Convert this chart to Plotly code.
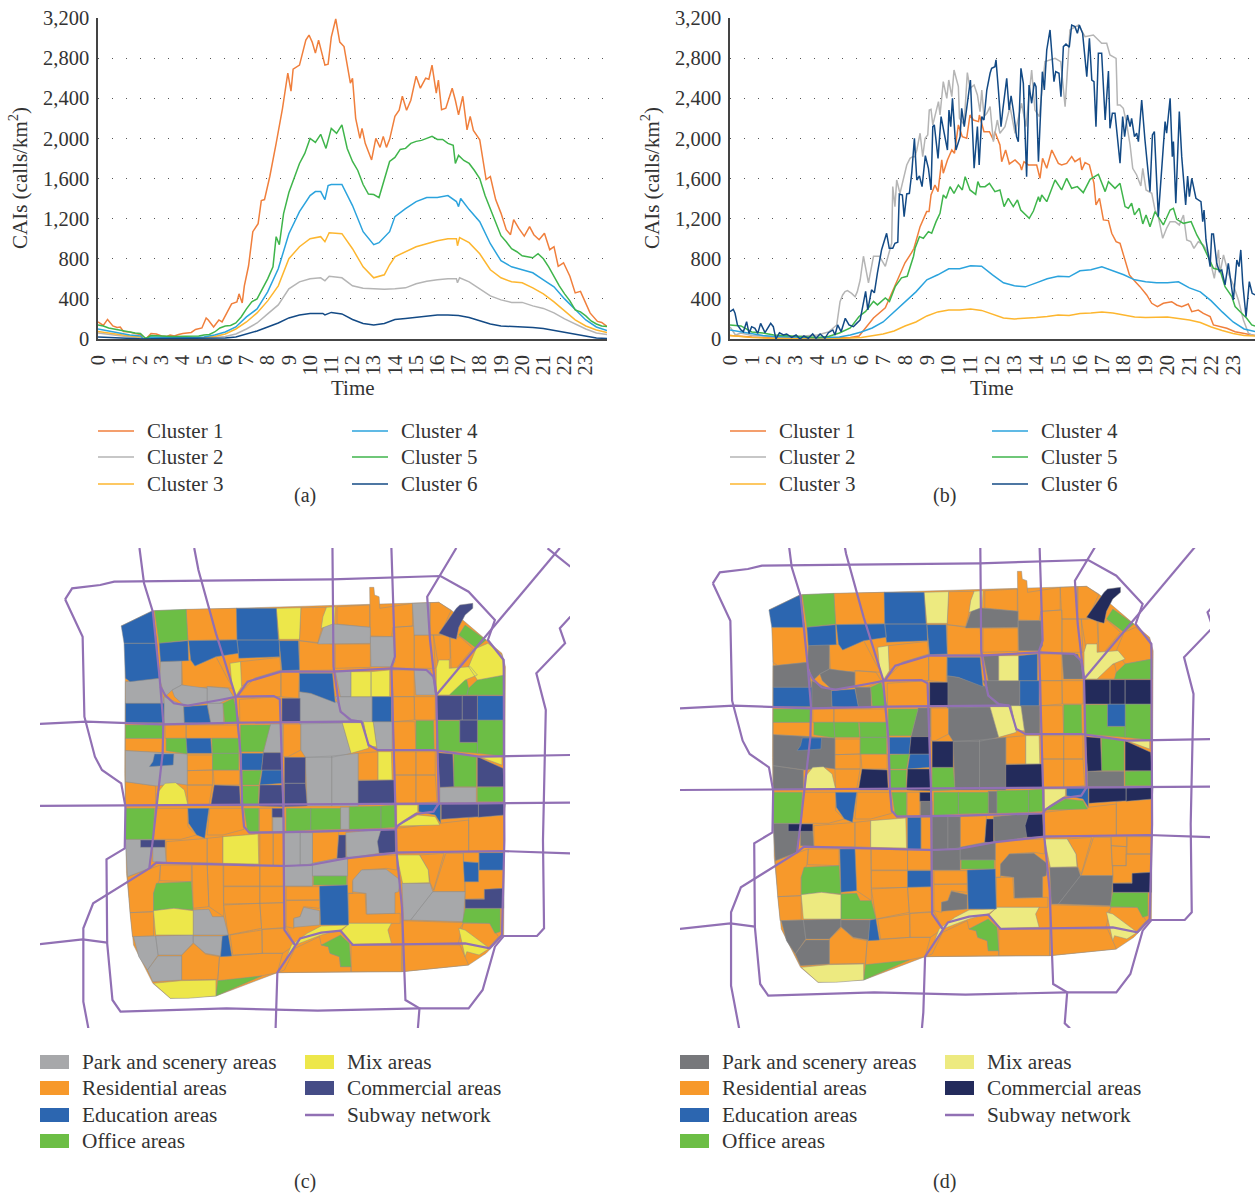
import plotly.graph_objects as go

W, H = 1256, 1196
# ---------- line chart values (hour, calls/km2) ----------
HOUR_TICKS = list(range(24))
CAI_TICKS = [0, 400, 800, 1200, 1600, 2000, 2400, 2800, 3200]

A1_T = [0,.12,.25,.45,.7,.9,1.05,1.2,1.5,1.75,2,2.15,2.3,2.5,2.75,3,3.25,3.4,3.6,3.8,4,4.4,4.6,4.9,5.1,5.2,5.45,5.7,5.85,6.1,6.3,6.55,6.65,6.8,6.9,7.1,7.3,7.55,7.7,7.85,8.1,8.4,8.7,8.95,9.1,9.2,9.5,9.8,9.95,10.1,10.25,10.4,10.7,10.85,11,11.21,11.4,11.6,11.9,12,12.15,12.35,12.45,12.6,12.9,13.1,13.3,13.45,13.6,13.75,14,14.2,14.35,14.55,14.75,15,15.2,15.45,15.6,15.75,15.95,16.05,16.2,16.4,16.7,16.85,17,17.2,17.4,17.55,17.7,18,18.3,18.5,18.75,19,19.25,19.45,19.6,19.85,20.1,20.35,20.55,20.8,21.05,21.3,21.5,21.7,21.95,22.25,22.5,22.75,23.2,23.55,23.75,24]
A1_V = [170,150,135,195,130,115,120,75,70,55,45,0,10,55,50,30,25,40,30,45,55,65,95,110,210,190,120,190,170,270,350,370,450,360,530,730,1070,1150,1380,1390,1620,1950,2300,2650,2470,2690,2730,2980,3030,2960,2850,2980,2730,2740,3010,3190,2960,2915,2550,2600,2200,2000,2100,1950,1785,2000,1910,2020,1910,1990,2220,2280,2420,2280,2380,2620,2500,2600,2590,2730,2450,2580,2285,2300,2500,2380,2235,2420,2085,2220,2080,1985,1590,1620,1390,1255,1090,1040,1190,1100,1025,1120,1040,990,1055,890,920,725,760,625,460,475,260,175,165,125]
A2_T = [0,.5,1,1.5,2,2.15,2.5,3,4,5,5.5,6,6.5,7,7.5,8,8.5,9,9.5,10,10.5,10.7,10.9,11.5,12,12.5,13,13.5,14,14.5,15,15.5,16,16.5,16.9,16.95,17.05,17.5,18,18.5,19,19.5,20,20.5,21,21.5,22,22.5,23,23.5,24]
A2_V = [60,45,30,20,15,0,10,10,8,10,15,25,50,100,160,250,340,500,570,600,610,580,625,610,530,505,500,495,500,510,550,575,590,600,600,560,610,570,500,430,390,365,365,330,305,260,200,150,100,60,45]
A3_T = [0,.5,1,1.5,2,2.15,2.5,3,3.5,4,4.5,5,5.5,6,6.5,7,7.5,8,8.5,9,9.5,10,10.5,10.7,10.9,11.5,12,12.5,13,13.5,13.75,14,14.5,15,15.5,16,16.5,16.9,16.95,17.05,17.5,18,18.5,19,19.5,20,20.5,21,21.5,22,22.5,23,23.5,24]
A3_V = [75,60,40,30,20,0,15,12,10,10,10,15,25,50,100,170,260,380,530,800,920,1000,1020,970,1060,1050,900,720,610,640,740,820,870,920,950,980,1000,1000,930,1010,960,850,690,610,570,560,510,450,370,280,190,130,90,65]
A4_T = [0,.5,1,1.5,2,2.15,2.5,3,3.5,4,4.5,5,5.5,6,6.5,7,7.5,8,8.5,9,9.5,10,10.25,10.5,10.7,10.85,11,11.5,12,12.5,13,13.25,13.75,14,14.5,15,15.5,16,16.5,16.9,17,17.1,17.5,18,18.5,19,19.5,20,20.5,21,21.5,22,22.5,23,23.5,24]
A4_V = [100,80,60,40,30,0,20,18,15,15,15,20,40,70,120,220,300,470,700,1050,1270,1430,1470,1470,1390,1530,1540,1540,1330,1070,940,960,1070,1220,1300,1370,1410,1410,1430,1370,1320,1400,1290,1170,950,780,720,690,660,590,520,400,290,190,120,85]
A5_T = [0,.25,.5,.75,1,1.25,1.5,1.75,2,2.15,2.25,2.5,2.75,3,3.5,4,4.5,4.75,5,5.25,5.5,5.75,6,6.25,6.5,6.75,7,7.25,7.5,7.75,8,8.25,8.4,8.55,8.75,9,9.25,9.5,9.75,10,10.25,10.5,10.75,11,11.25,11.5,11.75,12,12.25,12.5,12.75,13,13.25,13.5,13.75,14,14.25,14.5,14.75,15,15.25,15.5,15.75,16,16.25,16.5,16.75,16.85,17,17.25,17.5,17.75,18,18.25,18.5,18.75,19,19.25,19.5,19.75,20,20.25,20.5,20.75,21,21.25,21.5,21.75,22,22.25,22.5,22.75,23,23.25,23.5,23.75,24]
A5_V = [140,130,110,100,90,80,65,60,55,20,5,35,35,30,25,25,30,30,40,45,70,110,130,135,160,220,300,370,400,500,600,720,1020,940,1250,1460,1600,1750,1850,2000,1960,2040,1900,2100,2050,2135,1900,1770,1680,1540,1445,1440,1410,1590,1770,1810,1890,1900,1950,1970,1980,2000,2020,1990,1990,1950,1930,1750,1830,1780,1750,1680,1600,1430,1300,1155,1030,970,900,870,830,820,810,850,800,720,620,530,450,380,290,270,230,180,150,130,125]
A6_T = [0,.5,1,2,2.15,3,4,5,6,6.5,7,7.5,8,8.5,9,9.5,10,10.6,10.7,11,11.5,12,12.5,13,13.5,14,14.5,15,15.5,16,16.5,17,17.5,18,18.5,19,19.5,20,20.5,21,21.5,22,22.5,23,23.5,24]
A6_V = [20,15,10,5,0,5,5,5,10,20,50,80,120,160,210,240,255,255,240,265,250,195,155,140,155,195,205,215,230,240,240,235,215,180,150,130,125,125,115,105,85,65,45,25,10,5]

B1_T = [0,.5,1,2,3,4,5,5.5,5.9,6.2,6.56,7.1,7.47,8,8.3,8.41,8.69,8.84,8.99,9.1,9.19,9.37,9.51,9.68,9.75,9.94,10.14,10.26,10.44,10.62,10.82,10.97,11.13,11.36,11.4,11.61,11.86,12.04,12.11,12.34,12.42,12.6,12.77,13.03,13.26,13.33,13.44,13.64,13.87,14.02,14.17,14.29,14.48,14.71,15.01,15.16,15.39,15.62,15.77,16,16.08,16.23,16.43,16.54,16.64,16.73,16.89,17.07,17.3,17.45,17.65,17.83,18.06,18.26,18.52,18.74,19.05,19.28,19.54,19.81,20.19,20.42,20.65,20.95,21.11,21.41,21.64,21.95,22.1,22.4,22.71,23.09,23.47,23.85,24]
B1_V = [35,25,20,10,10,10,10,15,30,110,210,310,490,760,860,904,1120,1187,1270,1270,1436,1535,1469,1785,1652,1785,1884,1851,2134,2017,2001,2233,2183,2167,2233,2067,2067,1984,2067,1934,1768,1884,1745,1785,1735,1685,1768,1735,1735,1735,1602,1801,1702,1884,1751,1735,1751,1818,1768,1801,1685,1758,1735,1652,1552,1336,1402,1187,1180,1054,971,954,788,638,572,522,439,356,323,356,372,339,323,349,273,289,256,223,140,123,107,73,57,40,35]
B2_T = [0,.25,.5,1,2,3,4,4.5,4.88,5.03,5.15,5.26,5.37,5.56,5.72,5.82,5.95,6.1,6.33,6.56,6.83,7.1,7.39,7.44,7.54,7.62,7.77,8.08,8.23,8.35,8.46,8.54,8.69,8.81,8.92,9.04,9.11,9.19,9.27,9.53,9.6,9.75,9.91,10,10.14,10.24,10.44,10.49,10.7,10.85,10.97,11.16,11.31,11.43,11.51,11.61,11.74,11.89,12.04,12.22,12.34,12.57,12.8,13.03,13.33,13.53,13.79,13.94,14.14,14.4,14.86,15.12,15.32,15.54,15.93,16.23,16.61,16.99,17.22,17.37,17.65,17.71,17.83,17.98,18.13,18.29,18.41,18.59,18.78,18.87,19.02,19.28,19.43,19.58,19.78,19.96,20.12,20.35,20.54,20.73,20.88,21.06,21.21,21.41,21.64,21.87,22.14,22.33,22.4,22.56,22.78,23.01,23.24,23.47,23.7,23.85,24]
B2_V = [120,40,60,35,25,25,40,70,140,372,439,472,482,455,422,472,588,825,560,825,825,725,954,1519,1320,1585,1452,1735,1801,1818,1818,1884,2051,1818,2001,2034,2283,2290,2134,2366,2233,2566,2399,2582,2416,2682,2516,2200,2134,2655,2499,2532,2433,2266,2482,2217,2250,2316,1967,2183,2051,2117,2316,2051,2350,2117,2682,2283,2217,2765,2798,2765,2316,3081,3130,3014,3031,2948,2948,2831,2798,2333,2333,2300,2150,1934,1702,1635,1526,1702,1486,1453,1286,1220,1004,1104,1170,1170,1137,1236,987,971,904,971,937,854,605,888,655,838,655,539,389,190,57,40,35]
B3_T = [0,.5,1,2,3,4,5,6,6.5,7,7.5,8,8.5,9,9.5,10,10.5,11,11.5,12,12.5,13,13.5,14,14.5,15,15.5,16,16.5,17,17.5,18,18.5,19,19.5,20,20.5,21,21.5,22,22.5,23,23.5,24]
B3_V = [35,25,15,5,3,3,5,15,30,50,80,130,170,230,270,290,290,300,285,250,210,200,205,215,225,240,235,255,260,270,260,240,220,215,215,220,205,190,165,120,85,55,35,30]
B4_T = [0,.5,1,1.5,2,3,4,5,5.5,6,6.5,7,7.5,8,8.5,9,9.5,10,10.5,11,11.5,12,12.5,13,13.5,14,14.5,15,15.5,16,16.5,17,17.5,18,18.5,19,19.5,20,20.5,21,21.5,22,22.5,23,23.5,24]
B4_V = [90,70,50,35,25,15,12,20,40,70,110,170,270,380,470,590,640,700,700,730,725,640,560,530,520,560,600,625,620,680,690,720,680,640,590,570,560,560,570,510,470,380,270,170,100,75]
B5_T = [0,.5,1,1.5,2,3,4,4.5,5,5.5,5.9,6.2,6.56,6.74,7.1,7.29,7.56,7.84,8.1,8.39,8.46,8.66,8.84,9.07,9.22,9.42,9.6,9.75,9.88,10.06,10.24,10.44,10.62,10.75,10.97,11.23,11.33,11.43,11.66,11.86,12.11,12.34,12.53,12.72,12.95,13.14,13.29,13.68,13.87,14.1,14.17,14.25,14.48,14.86,15.16,15.39,15.62,15.88,16.15,16.46,16.84,17.15,17.3,17.6,17.83,18.06,18.21,18.36,18.49,18.71,18.87,19.02,19.2,19.43,19.58,19.81,20.12,20.27,20.42,20.73,21.08,21.34,21.64,21.87,22.1,22.4,22.63,22.94,23.09,23.39,23.62,23.85,24]
B5_V = [140,130,70,60,40,25,15,25,60,110,225,275,375,340,410,375,525,610,625,825,904,1020,1004,1070,1054,1170,1253,1436,1403,1519,1452,1535,1486,1618,1486,1442,1569,1519,1519,1552,1469,1486,1320,1402,1320,1386,1286,1203,1276,1419,1369,1436,1369,1585,1486,1602,1502,1519,1459,1592,1642,1469,1569,1502,1552,1320,1303,1353,1237,1303,1147,1237,1120,1270,1220,1137,1286,1303,1193,1153,1170,1037,921,821,705,688,522,423,323,256,206,140,130]
B6_T = [0,.15,.23,.34,.5,.61,.76,.87,.99,1.14,1.27,1.4,1.6,1.86,1.98,2.1,2.26,2.44,2.59,2.82,3.02,3.2,3.38,3.58,3.78,3.93,4.12,4.34,4.5,4.7,4.8,4.92,5.08,5.27,5.44,5.64,5.79,5.95,6.2,6.3,6.47,6.6,6.74,6.93,7.16,7.28,7.44,7.54,7.67,7.74,7.88,7.96,8.08,8.2,8.31,8.43,8.54,8.66,8.78,8.93,9.07,9.19,9.27,9.34,9.51,9.65,9.75,9.94,10.01,10.09,10.17,10.33,10.52,10.59,10.71,10.85,10.99,11.16,11.31,11.39,11.51,11.61,11.74,11.89,11.96,12.11,12.16,12.27,12.39,12.47,12.65,12.76,12.85,12.95,13.1,13.18,13.3,13.41,13.56,13.67,13.79,13.91,13.99,14.1,14.28,14.37,14.48,14.63,14.81,14.89,15.04,15.13,15.24,15.36,15.51,15.62,15.77,15.88,15.97,16.12,16.31,16.43,16.54,16.64,16.73,16.84,16.99,17.15,17.3,17.37,17.48,17.6,17.71,17.83,17.95,18.04,18.17,18.29,18.36,18.49,18.59,18.67,18.82,18.97,19.2,19.31,19.4,19.58,19.89,19.96,20.12,20.22,20.27,20.38,20.54,20.65,20.83,20.92,21,21.11,21.3,21.53,21.61,21.67,21.76,21.87,21.95,22.02,22.1,22.25,22.37,22.48,22.63,22.78,23.01,23.17,23.27,23.35,23.44,23.59,23.74,23.87,24]
B6_V = [272,296,256,140,90,73,173,56,123,107,56,156,63,156,123,0,63,40,50,17,40,0,30,7,50,7,50,7,63,90,40,140,73,206,140,123,156,190,475,290,490,460,660,890,1054,904,904,954,964,1446,1436,1220,1446,1452,1658,2001,1585,1625,1519,1828,1702,1486,2117,2134,1801,2217,2100,1884,2283,2117,2399,1884,2017,2300,2117,2366,2582,1702,2117,1735,2217,2183,2482,2649,2698,2715,2782,2482,2117,2283,2599,2283,2423,2283,2017,1967,2698,2549,1618,2532,2350,2556,2516,1768,2665,2482,2881,3081,2566,2665,2649,2416,2914,2941,2908,3130,3114,3047,3130,3047,2615,2998,2582,2566,2117,2848,2848,2183,2672,2100,2250,2250,1984,1752,2217,2017,2233,2117,2200,2017,2051,1968,2383,1984,1469,2034,2067,1220,2167,2051,2400,1818,1968,1353,2267,1818,1336,1625,1419,1602,1403,1370,1170,1286,987,821,721,1047,1047,755,672,688,539,755,389,788,722,888,555,223,572,455,440]

CLUSTER_NAMES = ["Cluster 1", "Cluster 2", "Cluster 3", "Cluster 4", "Cluster 5", "Cluster 6"]
CLUSTER_COLORS = ["#F07F3C", "#B5B5B5", "#FDB62F", "#2BA3DD", "#3FB54B", "#134A85"]
CLASS_NAMES = {"P": "Park and scenery areas", "R": "Residential areas", "E": "Education areas",
               "O": "Office areas", "M": "Mix areas", "C": "Commercial areas"}
COLORS_C = {"P": "#A7A8AA", "R": "#F7992B", "E": "#2C66B0", "O": "#6CBE45", "M": "#EDE74A", "C": "#454C86"}
COLORS_D = {"P": "#77787B", "R": "#F7992B", "E": "#2C66B0", "O": "#6CBE45", "M": "#EDEA80", "C": "#232B5B"}
SUBWAY_COLOR = "#9170B4"

# ---------- map geometry, in map units; first letter class in (c), second class in (d) ----------
MAP_OUTLINE = [(260,258),(350,212),(1165,187),(1200,210),(1345,340),(1355,380),(1352,900),(1350,1185),(1300,1240),(1250,1275),(1060,1295),(705,1298),(530,1368),(400,1375),(350,1330),(295,1215),(275,1000),(270,700),(272,260)]
BLOCKS_EE = [
 [(260,258),(350,212),(362,310),(268,310)],
 [(588,205),(702,205),(708,300),(590,300)],
 [(368,310),(450,302),(452,362),(372,365)],
 [(452,302),(590,300),(595,340),(530,350),(470,378),(458,360)],
 [(590,300),(710,300),(712,350),(595,355)],
 [(710,302),(765,302),(768,390),(718,392)],
 [(768,400),(862,400),(870,488),(800,460),(768,455)],
 [(272,490),(382,490),(382,548),(272,548)],
 [(438,500),(505,495),(515,550),(440,548)],
 [(975,470),(1030,470),(1030,545),(975,545)],
 [(355,642),(410,642),(408,675),(340,680),(350,665)],
 [(603,640),(665,640),(660,690),(603,690)],
 [(662,690),(718,690),(718,730),(655,735)],
 [(450,805),(510,805),(498,895),(475,885),(452,850)],
 [(1108,792),(1170,792),(1170,850),(1155,825),(1108,815)],
 [(825,1038),(905,1035),(908,1155),(828,1155)],
 [(548,1188),(565,1185),(575,1248),(543,1250)],
]
BLOCKS_OO = [
 [(355,212),(445,208),(450,300),(368,310)],
 [(1240,255),(1300,300),(1272,325),(1222,285)],
 [(1250,445),(1275,420),(1352,405),(1352,465),(1245,465)],
 [(550,490),(580,475),(597,548),(555,550)],
 [(272,555),(378,555),(378,595),(272,595)],
 [(600,555),(685,555),(665,635),(600,635)],
 [(1100,542),(1150,542),(1152,630),(1100,630)],
 [(1158,542),(1225,542),(1225,607),(1275,607),(1275,640),(1158,630)],
 [(1275,540),(1348,540),(1348,648),(1275,640)],
 [(388,595),(445,595),(448,642),(388,632)],
 [(518,595),(595,595),(595,640),(520,640)],
 [(520,640),(595,640),(595,690),(520,690)],
 [(605,692),(660,690),(652,735),(605,735)],
 [(605,738),(652,738),(650,798),(605,798)],
 [(1208,642),(1272,650),(1272,740),(1208,740)],
 [(1275,742),(1352,740),(1352,785),(1275,785)],
 [(272,805),(355,805),(350,898),(272,898)],
 [(610,805),(652,805),(652,875),(620,875)],
 [(730,805),(800,805),(800,870),(730,875)],
 [(800,805),(885,805),(885,868),(800,870)],
 [(910,800),(1000,798),(1000,865),(910,868)],
 [(1000,798),(1042,795),(1040,862),(1000,865)],
 [(808,1008),(902,1008),(902,1035),(808,1035)],
 [(352,1060),(360,1030),(460,1025),(465,1110),(410,1105),(352,1112)],
 [(1240,1105),(1340,1105),(1340,1175),(1325,1180),(1310,1150),(1232,1148)],
 [(830,1215),(885,1185),(910,1210),(915,1280),(885,1280),(882,1250),(855,1240),(850,1220)],
 [(535,1322),(660,1308),(530,1368)],
]
BLOCKS_MM = [
 [(702,205),(772,203),(768,298),(710,298)],
 [(845,202),(870,200),(868,250),(830,265),(835,230)],
 [(570,370),(600,365),(603,440),(585,470),(575,430)],
 [(915,395),(972,395),(972,470),(915,470)],
 [(1158,385),(1165,360),(1195,360),(1195,385),(1255,380),(1275,405),(1240,420),(1195,465),(1158,465)],
 [(890,548),(950,548),(965,625),(915,640)],
 [(950,545),(978,545),(988,620),(965,620)],
 [(992,635),(1030,635),(1032,720),(992,720)],
 [(1280,650),(1345,650),(1345,675)],
 [(362,795),(362,760),(385,730),(415,728),(440,750),(450,795)],
 [(1045,795),(1105,795),(1105,815),(1060,845),(1045,860)],
 [(550,890),(650,882),(652,972),(550,970)],
 [(1045,945),(1110,945),(1135,990),(1138,1028),(1062,1030)],
 [(352,1112),(410,1105),(465,1112),(465,1185),(358,1185)],
 [(1222,1165),(1240,1170),(1310,1225),(1280,1245),(1245,1235),(1240,1250)],
 [(910,1150),(1030,1150),(1020,1170),(1030,1210),(920,1212),(885,1175)],
 [(830,1158),(905,1155),(885,1170),(830,1185),(780,1205),(755,1215),(725,1270),(745,1215),(790,1180)],
 [(352,1330),(430,1322),(530,1320),(530,1368),(450,1375),(400,1375)],
]
BLOCKS_CC = [
 [(1165,280),(1215,205),(1225,195),(1262,190),(1262,205),(1240,225),(1222,262),(1215,298),(1195,292)],
 [(718,475),(770,475),(770,545),(718,545)],
 [(1158,467),(1232,467),(1232,540),(1158,540)],
 [(1232,467),(1275,467),(1275,540),(1232,540)],
 [(525,735),(597,738),(600,798),(515,798)],
 [(665,638),(718,638),(718,690),(660,690)],
 [(655,735),(718,735),(722,800),(652,798)],
 [(725,652),(785,652),(785,730),(725,730)],
 [(935,722),(1040,720),(1040,790),(935,795)],
 [(1162,638),(1205,642),(1208,740),(1168,742)],
 [(1275,650),(1348,685),(1352,740),(1275,740)],
 [(690,805),(722,805),(722,832),(690,832)],
 [(1172,792),(1278,792),(1278,830),(1172,838)],
 [(1278,792),(1355,790),(1352,825),(1278,832)],
 [(315,900),(385,900),(385,922),(315,922)],
 [(880,885),(900,885),(900,955),(875,955)],
 [(1000,870),(1040,868),(1042,938),(995,940),(990,905)],
 [(1295,1048),(1350,1045),(1350,1105),(1240,1105),(1240,1078),(1295,1078)],
]
BLOCKS_PP = [
 [(840,250),(970,262),(970,310),(820,312)],
 [(970,290),(1035,290),(1040,365),(1030,380),(972,380)],
 [(372,365),(432,362),(432,435),(405,450),(385,470),(370,420)],
 [(870,392),(915,392),(915,470),(885,470)],
 [(1095,390),(1140,390),(1150,420),(1155,465),(1100,465)],
 [(272,425),(370,415),(382,490),(272,490)],
 [(405,450),(432,435),(505,445),(505,490),(440,497),(412,470)],
 [(382,470),(438,497),(440,552),(382,552)],
 [(505,490),(550,490),(552,552),(515,552)],
 [(768,455),(800,460),(880,488),(885,515),(910,540),(945,548),(768,552)],
 [(870,470),(975,470),(975,548),(915,548),(890,520)],
 [(685,552),(720,552),(720,638),(665,638)],
 [(772,548),(890,548),(915,640),(860,652),(785,652),(772,630)],
 [(978,545),(1032,545),(1032,632),(990,632)],
 [(272,632),(380,638),(448,642),(448,735),(415,730),(362,738),(272,725)],
 [(785,652),(860,648),(860,798),(790,798)],
 [(860,648),(935,640),(935,798),(860,798)],
 [(1168,742),(1272,742),(1272,788),(1168,788)],
 [(692,832),(725,832),(725,878),(692,878)],
 [(885,802),(910,802),(910,868),(885,868)],
 [(272,898),(350,898),(340,985),(278,1010)],
 [(350,898),(385,922),(388,968),(350,965)],
 [(725,878),(770,878),(770,975),(725,980)],
 [(770,878),(805,878),(805,972),(770,975)],
 [(900,878),(1002,868),(995,940),(902,955)],
 [(725,980),(805,972),(805,1038),(725,1038)],
 [(805,970),(905,950),(905,1008),(805,1008)],
 [(945,990),(1015,988),(1055,1020),(1050,1055),(1040,1058),(1040,1120),(960,1122),(958,1060),(920,1055),(920,1020)],
 [(780,1102),(825,1112),(825,1155),(752,1162),(752,1135),(770,1130)],
 [(1060,1030),(1140,1030),(1148,1055),(1085,1140),(1065,1140)],
 [(1148,1055),(1240,1055),(1235,1145),(1085,1140)],
 [(295,1190),(358,1188),(365,1245),(335,1290),(310,1250)],
 [(358,1188),(465,1185),(465,1208),(432,1245),(365,1245)],
 [(365,1248),(432,1248),(432,1320),(350,1325),(335,1290)],
 [(465,1188),(550,1188),(543,1248),(500,1240),(465,1208)],
]
BLOCKS_RR = [
 [(445,208),(590,205),(590,298),(450,302)],
 [(772,203),(845,202),(835,250),(820,310),(768,302)],
 [(875,200),(968,195),(968,262),(875,252)],
 [(968,142),(980,142),(982,165),(995,170),(997,205),(1090,190),(1090,258),(1035,262),(1030,290),(970,288)],
 [(1140,188),(1165,187),(1200,212),(1168,285),(1140,285)],
 [(768,302),(862,312),(865,390),(768,392)],
 [(870,312),(970,312),(970,382),(870,385)],
 [(1035,262),(1095,258),(1095,385),(1035,385)],
 [(1095,285),(1150,285),(1155,385),(1095,385)],
 [(1150,285),(1195,285),(1198,355),(1165,385)],
 [(1198,295),(1225,290),(1262,325),(1215,385),(1200,385)],
 [(432,362),(458,360),(470,378),(530,350),(565,420),(580,445),(515,440),(470,445),(435,435)],
 [(600,365),(712,352),(715,390),(640,415),(600,440)],
 [(640,415),(715,392),(715,470),(590,470)],
 [(715,392),(768,392),(765,475),(715,470)],
 [(1030,390),(1095,390),(1095,470),(1035,470)],
 [(597,478),(712,470),(715,545),(598,548)],
 [(1035,470),(1095,470),(1095,540),(1035,545)],
 [(1095,470),(1155,470),(1155,540),(1097,540)],
 [(385,555),(445,555),(445,595),(385,595)],
 [(445,555),(590,555),(595,595),(445,595)],
 [(722,552),(772,552),(772,630),(735,650),(722,650)],
 [(1035,545),(1097,545),(1100,628),(1038,630)],
 [(272,595),(378,595),(380,638),(272,632)],
 [(448,645),(520,645),(520,690),(448,692)],
 [(448,692),(520,690),(520,735),(448,735)],
 [(522,690),(597,690),(597,735),(525,735)],
 [(448,735),(520,735),(510,795),(450,795)],
 [(935,640),(992,635),(992,720),(935,720)],
 [(1038,635),(1100,635),(1100,705),(1040,705)],
 [(1100,635),(1155,635),(1155,705),(1100,705)],
 [(1040,705),(1100,705),(1100,790),(1042,790)],
 [(1100,705),(1155,705),(1160,785),(1100,790)],
 [(358,805),(450,805),(450,860),(475,885),(430,898),(352,898)],
 [(512,805),(605,805),(610,868),(550,885),(505,885)],
 [(654,805),(690,805),(690,875),(654,875)],
 [(388,905),(505,895),(505,968),(388,968)],
 [(505,895),(550,890),(550,970),(505,968)],
 [(693,880),(722,880),(722,975),(693,975)],
 [(805,878),(880,875),(875,955),(805,970)],
 [(1045,865),(1250,840),(1250,935),(1045,935)],
 [(1250,832),(1350,825),(1350,935),(1250,935)],
 [(372,975),(460,975),(460,1025),(370,1022)],
 [(278,1010),(372,975),(368,1022),(352,1060),(352,1115),(285,1118)],
 [(505,975),(550,975),(552,1130),(510,1100)],
 [(552,975),(655,978),(655,1038),(552,1038)],
 [(655,978),(722,980),(722,1038),(655,1038)],
 [(552,1040),(655,1040),(655,1090),(552,1092)],
 [(905,950),(1045,945),(1045,990),(1015,985),(945,990),(920,1025),(920,1060),(905,1060)],
 [(1110,945),(1180,940),(1150,1050),(1140,1028),(1135,990)],
 [(1185,940),(1235,940),(1240,1055),(1150,1055)],
 [(1235,938),(1280,938),(1280,968),(1235,965)],
 [(1278,990),(1350,990),(1350,1045),(1295,1050),(1295,1075),(1240,1078),(1240,1025),(1278,1025)],
 [(552,1095),(655,1090),(660,1165),(565,1185)],
 [(655,1090),(722,1088),(728,1165),(660,1168)],
 [(730,1040),(825,1040),(825,1080),(730,1080)],
 [(730,1082),(825,1080),(825,1105),(780,1100),(770,1130),(752,1135),(752,1165),(730,1160)],
 [(908,1060),(955,1060),(958,1122),(1055,1120),(1055,1150),(908,1150)],
 [(1060,1142),(1235,1148),(1220,1212),(1060,1212)],
 [(1235,1150),(1310,1150),(1335,1190),(1305,1225),(1225,1165)],
 [(1060,1215),(1225,1215),(1250,1275),(1060,1295)],
 [(915,1215),(1060,1215),(1060,1295),(915,1295)],
 [(725,1290),(755,1225),(825,1190),(830,1215),(850,1220),(855,1240),(882,1250),(885,1280),(915,1280),(915,1295),(705,1298)],
 [(285,1118),(352,1115),(352,1188),(292,1190)],
 [(467,1210),(500,1242),(540,1250),(535,1318),(432,1320),(432,1245)],
 [(570,1185),(660,1170),(662,1240),(578,1245)],
 [(662,1168),(730,1162),(755,1215),(720,1240),(662,1240)],
 [(540,1250),(662,1240),(720,1240),(705,1298),(600,1320),(535,1322)],
]
BLOCKS_ER = [
 [(268,310),(362,310),(368,415),(285,425),(272,415)],
 [(1235,965),(1278,968),(1278,1025),(1238,1025)],
 [(1280,938),(1350,938),(1350,990),(1280,990)],
]
BLOCKS_MR = [[(1272,325),(1305,310),(1345,345),(1352,405),(1275,420),(1250,380)]]
BLOCKS_ME = [[(972,395),(1025,390),(1025,470),(972,470)]]
BLOCKS_OR = [[(1195,465),(1200,430),(1245,420),(1250,445),(1245,465)]]
BLOCKS_PR = [
 [(1090,190),(1140,188),(1140,285),(1095,285)],
 [(505,440),(565,445),(580,470),(540,490),(505,490)],
]
BLOCKS_CE = [[(1225,540),(1275,540),(1275,607),(1225,607)]]
BLOCKS_EC = [[(1275,467),(1350,467),(1350,540),(1275,540)]]
BLOCKS_EO = [[(445,595),(515,595),(518,640),(448,640)]]
BLOCKS_CO = [[(725,730),(785,730),(790,798),(725,800)]]
BLOCKS_RP = [[(272,725),(358,738),(358,795),(272,795)]]
BLOCKS_MO = [[(1060,850),(1105,825),(1155,830),(1168,855),(1050,858)]]
BLOCKS_RE = [
 [(655,880),(693,880),(693,975),(655,975)],
 [(462,975),(505,975),(510,1100),(465,1105)],
 [(655,1040),(722,1040),(722,1088),(655,1090)],
]
BLOCKS_PO = [[(465,1110),(510,1108),(520,1130),(552,1130),(565,1185),(465,1185)]]

SUBWAY_LINES = [
 [(100,178),(120,145),(200,135),(240,125),(500,122),(860,118),(1170,108),(1250,155),(1325,240),(1305,300),(1350,360),(1352,900),(1345,1185),(1310,1225),(1240,1210),(920,1215),(885,1172),(830,1178),(770,1195),(705,1298),(700,1465),(696,1513)],
 [(100,178),(150,290),(155,530),(185,650),(205,690),(260,730),(272,800),(270,925),(218,958),(220,1210),(235,1380),(258,1415),(560,1405),(820,1412),(1110,1405),(1250,1405),(1290,1350),(1325,1220),(1350,1188),(1445,1188),(1465,1165),(1462,900),(1470,510),(1443,400),(1525,310),(1510,265),(1540,230)],
 [(312,24),(325,130),(350,215),(370,420),(380,550),(378,640),(350,900),(340,985),(180,1090),(152,1165),(152,1385),(175,1513)],
 [(468,24),(480,90),(530,280),(585,465),(600,640),(605,800),(610,860),(625,878),(800,875),(1040,868),(1050,855),(1100,822),(1150,815),(1165,790),(1158,465),(1140,300),(1132,170),(1215,24)],
 [(372,440),(385,465),(410,490),(450,497),(540,480),(590,470),(695,468),(712,478),(722,800),(725,1170),(755,1215)],
 [(862,24),(865,380),(880,490),(885,515),(915,540),(945,545),(965,615),(990,630),(1150,630),(1280,650),(1540,645)],
 [(1030,24),(1040,350),(1030,380),(1040,800),(1045,940),(1060,1100),(1070,1380),(1110,1405),(1105,1465),(1103,1498),(1118,1513)],
 [(1158,465),(1510,24)],
 [(1475,25),(1540,80)],
 [(6,553),(160,545),(380,553),(600,548),(900,545),(945,545)],
 [(6,798),(1540,788)],
 [(590,470),(620,425),(715,395),(865,395),(1030,385),(1130,390),(1150,410),(1158,465)],
 [(340,985),(360,968),(720,978),(800,975),(900,955),(1045,938),(1340,933),(1540,940)],
 [(6,1215),(150,1198),(220,1208)],
]

# ---------- panels, placed in page pixels ----------
def fx(p): return p / W
def fy(p): return 1 - p / H

FONT = "Liberation Serif"
INK = "#333333"
fig = go.Figure()

def add_lines(series, xa, ya):
    for (t, v), name, col in zip(series, CLUSTER_NAMES, CLUSTER_COLORS):
        fig.add_trace(go.Scatter(x=t, y=v, mode="lines", name=name, xaxis=xa, yaxis=ya,
                                 line=dict(color=col, width=1.5), showlegend=False))

add_lines([(A1_T,A1_V),(A2_T,A2_V),(A3_T,A3_V),(A4_T,A4_V),(A5_T,A5_V),(A6_T,A6_V)], "x", "y")
add_lines([(B1_T,B1_V),(B2_T,B2_V),(B3_T,B3_V),(B4_T,B4_V),(B5_T,B5_V),(B6_T,B6_V)], "x2", "y2")

GROUPS = [("R","R",BLOCKS_RR),("P","P",BLOCKS_PP),("O","O",BLOCKS_OO),("M","M",BLOCKS_MM),("E","E",BLOCKS_EE),("C","C",BLOCKS_CC),
          ("E","R",BLOCKS_ER),("M","R",BLOCKS_MR),("M","E",BLOCKS_ME),("O","R",BLOCKS_OR),("P","R",BLOCKS_PR),("C","E",BLOCKS_CE),
          ("E","C",BLOCKS_EC),("E","O",BLOCKS_EO),("C","O",BLOCKS_CO),("R","P",BLOCKS_RP),("M","O",BLOCKS_MO),("R","E",BLOCKS_RE),("P","O",BLOCKS_PO)]

def poly_trace(polys, color, xa, ya, name, edge="#8E8E8E", width=0.5):
    xs, ys = [], []
    for p in polys:
        xs += [q[0] for q in p] + [p[0][0], None]
        ys += [q[1] for q in p] + [p[0][1], None]
    return go.Scatter(x=xs, y=ys, mode="lines", fill="toself", fillcolor=color, name=name,
                      line=dict(color=edge, width=width), xaxis=xa, yaxis=ya, showlegend=False, hoverinfo="name")

def add_map(colors, idx, xa, ya):
    fig.add_trace(poly_trace([MAP_OUTLINE], colors["R"], xa, ya, CLASS_NAMES["R"]))
    for cls in "RPOMEC":
        polys = []
        for g in GROUPS:
            if g[idx] == cls:
                polys += g[2]
        fig.add_trace(poly_trace(polys, colors[cls], xa, ya, CLASS_NAMES[cls]))
    for ln in SUBWAY_LINES:
        fig.add_trace(go.Scatter(x=[q[0] for q in ln], y=[q[1] for q in ln], mode="lines", name="Subway network",
                                 line=dict(color=SUBWAY_COLOR, width=2.2), xaxis=xa, yaxis=ya, showlegend=False))

add_map(COLORS_C, 0, "x3", "y3")
add_map(COLORS_D, 1, "x4", "y4")

def line_x(l, r):
    return dict(domain=[fx(l), fx(r)], range=[0, 24], tickmode="array", tickvals=HOUR_TICKS, automargin=False,
                ticktext=[str(h) for h in HOUR_TICKS], tickangle=-90, showgrid=False, zeroline=False,
                showline=True, linecolor="#444444", linewidth=1.5, ticks="outside", ticklen=6, tickcolor="rgba(0,0,0,0)",
                tickfont=dict(family=FONT, size=20.5, color=INK))
def line_y(anchor):
    return dict(domain=[fy(339), fy(18)], range=[0, 3200], tickmode="array", tickvals=CAI_TICKS, automargin=False,
                ticktext=[f"{v:,}" for v in CAI_TICKS], showgrid=True, griddash="1px,13px", gridcolor="#555555", gridwidth=1,
                zeroline=False, showline=True, linecolor="#444444", linewidth=1.5, ticks="outside", ticklen=3,
                tickcolor="rgba(0,0,0,0)", tickfont=dict(family=FONT, size=20.5, color=INK), anchor=anchor)
def map_x(l, r, rng):
    return dict(domain=[fx(l), fx(r)], range=rng, visible=False, automargin=False, showticklabels=False)
def map_y(rng, anchor):
    return dict(domain=[fy(1028), fy(548)], range=rng, visible=False, anchor=anchor, automargin=False, showticklabels=False)

anns, shapes = [], []
def text(x, y, s, anchor="left", angle=0, size=21):
    anns.append(dict(x=fx(x), y=fy(y), xref="paper", yref="paper", text=s, showarrow=False, xanchor=anchor, yanchor="middle",
                     textangle=angle, font=dict(family=FONT, size=size, color=INK)))
def hline(x0, x1, y, col, width):
    shapes.append(dict(type="line", xref="paper", yref="paper", x0=fx(x0), x1=fx(x1), y0=fy(y), y1=fy(y), line=dict(color=col, width=width)))
def swatch(x0, x1, y, col):
    shapes.append(dict(type="rect", xref="paper", yref="paper", x0=fx(x0), x1=fx(x1), y0=fy(y-7), y1=fy(y+7), fillcolor=col, line=dict(width=0)))

text(353, 388, "Time", "center")
text(992, 388, "Time", "center")
text(18, 178, "CAIs (calls/km<sup>2</sup>)", "center", -90)
text(650, 178, "CAIs (calls/km<sup>2</sup>)", "center", -90)

ROWS = [431, 457, 484]
for x_line, x_text, names, cols in [(98,145,CLUSTER_NAMES[:3],CLUSTER_COLORS[:3]),(352,399,CLUSTER_NAMES[3:],CLUSTER_COLORS[3:]),
                                    (730,777,CLUSTER_NAMES[:3],CLUSTER_COLORS[:3]),(992,1039,CLUSTER_NAMES[3:],CLUSTER_COLORS[3:])]:
    for y, n, c in zip(ROWS, names, cols):
        hline(x_line, x_line+36, y, c, 1.3)
        text(x_text, y, n)

for s, x, y in [("(a)",305,495),("(b)",944,495),("(c)",305,1181),("(d)",944,1181)]:
    text(x, y, s, "center", size=20)

MAP_ROWS = [1062, 1088, 1115, 1141]
for off, colors in [(0, COLORS_C), (640, COLORS_D)]:
    for y, cls in zip(MAP_ROWS, "PREO"):
        swatch(40+off, 69+off, y, colors[cls])
        text(80+off, y, CLASS_NAMES[cls], size=21.3)
    for y, cls in zip(MAP_ROWS[:2], "MC"):
        swatch(305+off, 334+off, y, colors[cls])
        text(345+off, y, CLASS_NAMES[cls], size=21.3)
    hline(305+off, 334+off, MAP_ROWS[2], SUBWAY_COLOR, 2.5)
    text(345+off, MAP_ROWS[2], "Subway network", size=21.3)

fig.update_layout(
    template="none",
    width=W, height=H, margin=dict(l=0, r=0, t=0, b=0, pad=0), autosize=False, paper_bgcolor="white", plot_bgcolor="white",
    showlegend=False, annotations=anns, shapes=shapes,
    xaxis=line_x(98, 607), yaxis=line_y("x"),
    xaxis2=line_x(730, 1255), yaxis2=line_y("x2"),
    xaxis3=map_x(40, 570, [28.5, 1539]), yaxis3=map_y([1464, 24], "x3"),
    xaxis4=map_x(680, 1210, [6.5, 1517]), yaxis4=map_y([1512, 72], "x4"),
)
fig.write_html("out.html", config={"displayModeBar": False},
               post_script="document.body.style.margin='0';document.documentElement.style.overflow='hidden';")
